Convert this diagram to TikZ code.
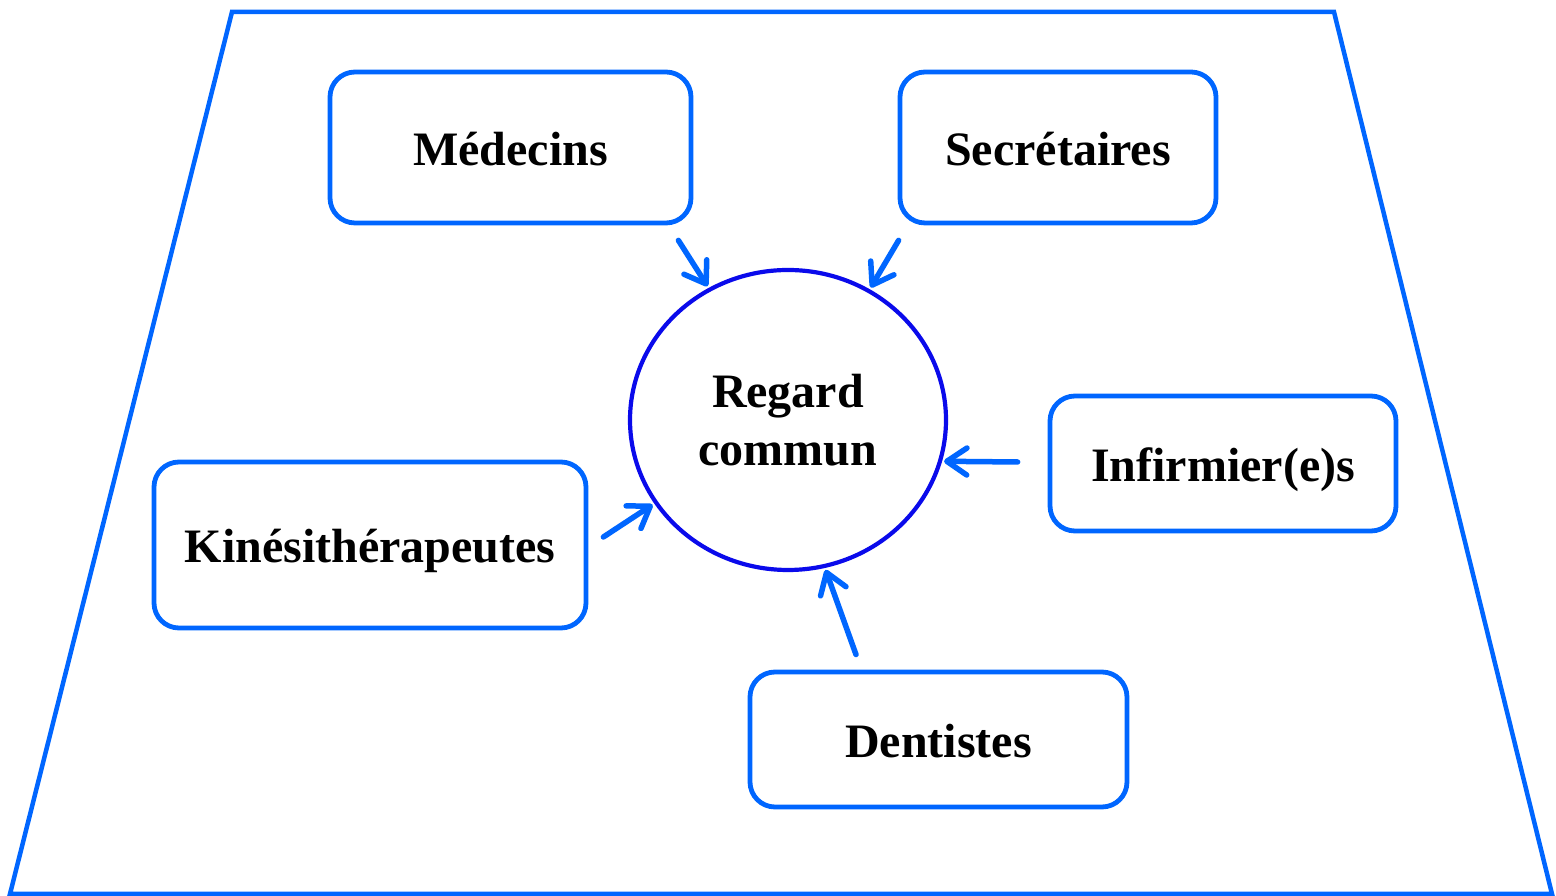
\documentclass[tikz,border=0pt]{standalone}
\usepackage{fontspec}
\setmainfont{Liberation Serif}
\usetikzlibrary{arrows.meta,calc,shapes.geometric}
\definecolor{boxblue}{RGB}{0,102,255}
\definecolor{circblue}{RGB}{10,10,235}
\tikzset{
  card/.style={draw=boxblue,line width=4.8pt,rounded corners=25pt,inner sep=0pt,
    text height=36pt,text depth=0pt,
    font=\fontsize{48}{56}\selectfont\bfseries},
  link/.style={draw=boxblue,line width=5.5pt,line cap=round,line join=round,shorten >=2pt,
    -{Straight Barb[length=20pt,width=27pt,round]}},
}
\begin{document}
\begin{tikzpicture}[x=1pt,y=1pt]
\useasboundingbox (0,0) rectangle (1556,896);
\draw[boxblue,line width=4.5pt,line join=miter] (232,884) -- (1334,884) -- (1552,2) -- (10,2) -- cycle;
\node[card,minimum width=361pt,minimum height=151pt] (med) at (510.5,748.5) {Médecins};
\node[card,minimum width=316pt,minimum height=151pt] (sec) at (1058,748.5) {Secrétaires};
\node[card,minimum width=346pt,minimum height=135pt] (inf) at (1223,432.5) {Infirmier(e)s};
\node[card,minimum width=432pt,minimum height=166pt] (kin) at (370,351) {Kinésithérapeutes};
\node[card,minimum width=377pt,minimum height=135pt] (den) at (938.5,156.5) {Dentistes};
\node[ellipse,draw=circblue,line width=4.2pt,minimum width=316pt,minimum height=300pt,inner sep=0pt,
  align=center,font=\fontsize{48}{58}\selectfont\bfseries] (reg) at (788,476) {Regard\\commun};
\draw[link] ($(med.south east)+(-15,-15)$) -- (reg.121);
\draw[link] ($(sec.south west)+(1,-15)$) -- (reg.58);
\draw[link] ($(inf.west)+(-30,1.5)$) -- (reg.-15.5);
\draw[link] ($(kin.east)+(15,8)$) -- (reg.212);
\draw[link] ($(den.north)+(-82.5,15)$) -- (reg.-76);
\end{tikzpicture}
\end{document}
